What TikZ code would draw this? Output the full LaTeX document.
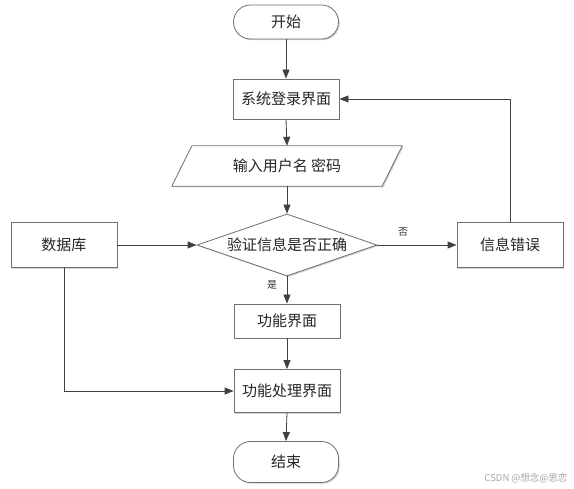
\documentclass[tikz,border=0pt]{standalone}
\usepackage{fontspec}
\newfontfamily\cjk{Noto Sans CJK SC}
\usetikzlibrary{arrows.meta,shapes.geometric,shadows}
\definecolor{lineclr}{HTML}{404040}
\definecolor{boxclr}{HTML}{707070}
\tikzset{
  base/.style={draw=boxclr, line width=0.8pt, fill=white, font=\cjk\fontsize{15}{17}\selectfont, text=black!85,
    drop shadow={shadow xshift=1.2pt, shadow yshift=-1.2pt, fill=gray!35, opacity=1}},
  procbox/.style={base, rectangle, minimum width=106pt, inner sep=0pt},
  termbox/.style={base, rectangle, rounded corners=17pt, minimum width=105pt, inner sep=0pt},
  decbox/.style={base, diamond, aspect=2.9, inner sep=0pt, minimum width=180pt, minimum height=62pt},
  conn/.style={draw=lineclr, line width=0.8pt, -{Triangle[length=9pt,width=7pt]}},
  lbl/.style={font=\cjk\fontsize{10}{11}\selectfont, text=black!80}
}
\begin{document}
\begin{tikzpicture}[x=1pt,y=-1pt]
\useasboundingbox[fill=white] (0,0) rectangle (574,489);
\node[termbox, minimum height=34pt] (start) at (286,22) {开始};
\node[procbox, minimum height=40pt] (login) at (286,99) {系统登录界面};
\node[minimum width=230pt, minimum height=40pt, inner sep=0pt] (input) at (287,166) {};
\fill[gray!35] ([shift={(1.2pt,-1.2pt)}]input.south west) -- ([shift={(21.2pt,-1.2pt)}]input.north west) -- ([shift={(1.2pt,-1.2pt)}]input.north east) -- ([shift={(-18.8pt,-1.2pt)}]input.south east) -- cycle;
\filldraw[draw=boxclr, line width=0.8pt, fill=white] (input.south west) -- ([xshift=20pt]input.north west) -- (input.north east) -- ([xshift=-20pt]input.south east) -- cycle;
\node[font=\cjk\fontsize{15}{17}\selectfont, text=black!85] (inputtext) at (input.center) {输入用户名 密码};
\node[decbox] (check) at (287,245) {验证信息是否正确};
\node[procbox, minimum height=45pt] (db) at (64,245) {数据库};
\node[procbox, minimum height=45pt] (err) at (510,245) {信息错误};
\node[procbox, minimum height=34pt] (func) at (287,321) {功能界面};
\node[procbox, minimum height=43pt] (proc) at (287,391) {功能处理界面};
\node[termbox, minimum height=41pt] (end) at (286,462) {结束};

\draw[conn] (start.south) -- (login.north);
\draw[conn] (login.south) -- (input.north);
\draw[conn] (input.south) -- (check.north);
\draw[conn] (db.east) -- (check.west);
\draw[conn] (check.east) -- (err.west);
\node[lbl] (nolbl) at (403,232) {否};
\draw[conn] (err.north) |- (login.east);
\draw[conn] (check.south) -- (func.north);
\node[lbl] (yeslbl) at (272,285) {是};
\draw[conn] (func.south) -- (proc.north);
\draw[conn] (db.south) |- (proc.west);
\draw[conn] (proc.south) -- (end.north);

\node[font=\cjk\fontsize{9.5}{11}\selectfont, text=gray!70, anchor=east] (wm) at (571,478) {CSDN @想念@思恋};
\end{tikzpicture}
\end{document}
